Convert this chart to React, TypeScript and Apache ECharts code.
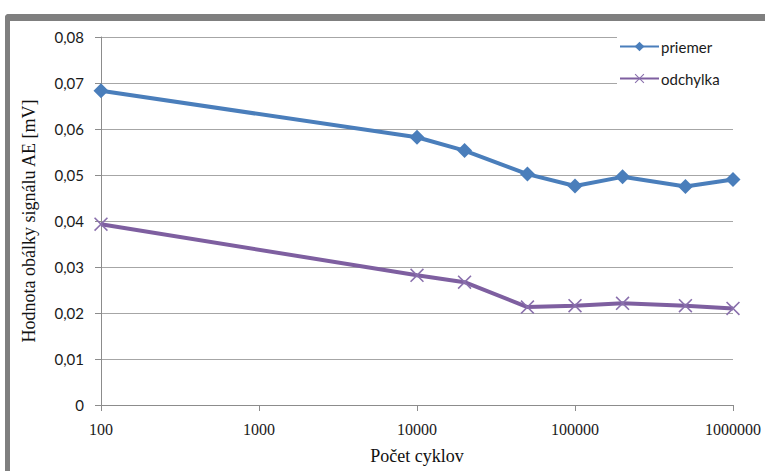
import React, { useEffect, useRef } from "react";
import * as echarts from "echarts";

const cycles = [100, 10000, 20000, 50000, 100000, 200000, 500000, 1000000];
const priemer = [0.0683, 0.0582, 0.0553, 0.0502, 0.0476, 0.0496, 0.0475, 0.049];
const odchylka = [0.0393, 0.0282, 0.0267, 0.0213, 0.0216, 0.0221, 0.0216, 0.021];
const seriesNames = ["priemer", "odchylka"];
const xAxisTitle = "Počet cyklov";
const yAxisTitle = "Hodnota obálky signálu AE [mV]";

const crossPath =
  "path://M0,0.8L0.8,0L5,4.2L9.2,0L10,0.8L5.8,5L10,9.2L9.2,10L5,5.8L0.8,10L0,9.2L4.2,5Z";

export default function App() {
  const ref = useRef<HTMLDivElement>(null);
  useEffect(() => {
    if (!ref.current) return;
    const chart = echarts.init(ref.current, undefined, { renderer: "svg" });
    const gray = "#8c8c8c";
    chart.setOption({
      animation: false,
      backgroundColor: "#ffffff",
      grid: { left: 101, right: 32, top: 37, bottom: 66 },
      legend: {
        orient: "vertical",
        left: 617,
        top: 37,
        itemGap: 17,
        itemWidth: 39,
        itemHeight: 12,
        backgroundColor: "#ffffff",
        padding: [2, 20, 2, 2],
        textStyle: { fontFamily: "Lato", fontSize: 15, color: "#1a1a1a", padding: [0, 0, 0, -3] },
        data: seriesNames,
      },
      xAxis: {
        type: "log",
        logBase: 10,
        min: 100,
        max: 1000000,
        name: xAxisTitle,
        nameLocation: "middle",
        nameGap: 42,
        nameTextStyle: { fontFamily: "Liberation Serif", fontSize: 18, color: "#111" },
        axisLine: { show: true, lineStyle: { color: gray, width: 1 } },
        axisTick: { show: true, length: 6, lineStyle: { color: gray } },
        splitLine: { show: false },
        minorTick: { show: false },
        axisLabel: {
          fontFamily: "Liberation Serif",
          fontSize: 16,
          color: "#1a1a1a",
          margin: 16,
          formatter: (v: number) => String(Math.round(v)),
        },
      },
      yAxis: {
        type: "value",
        min: 0,
        max: 0.08,
        interval: 0.01,
        name: yAxisTitle,
        nameLocation: "middle",
        nameGap: 63,
        nameTextStyle: { fontFamily: "Liberation Serif", fontSize: 18, color: "#111" },
        axisLine: { show: true, lineStyle: { color: gray, width: 1 } },
        axisTick: { show: true, length: 6, lineStyle: { color: gray } },
        splitLine: { show: true, lineStyle: { color: "#a6a6a6", width: 1 } },
        axisLabel: {
          fontFamily: "Lato",
          fontSize: 15,
          color: "#1a1a1a",
          margin: 17,
          formatter: (v: number) => (v === 0 ? "0" : v.toFixed(2).replace(".", ",")),
        },
      },
      graphic: [
        {
          type: "rect",
          shape: { x: 5, y: 14, width: 800, height: 7, r: [4, 0, 0, 0] },
          style: { fill: "#7f7f7f" },
          z: 100,
        },
        {
          type: "rect",
          shape: { x: 5, y: 14, width: 5, height: 470, r: [4, 0, 0, 0] },
          style: { fill: "#7f7f7f" },
          z: 100,
        },
      ],
      series: [
        {
          name: seriesNames[0],
          type: "line",
          data: cycles.map((c, i) => [c, priemer[i]]),
          symbol: "diamond",
          symbolSize: 15,
          lineStyle: { color: "#4a7ebb", width: 4 },
          itemStyle: { color: "#4a7ebb" },
          z: 3,
        },
        {
          name: seriesNames[1],
          type: "line",
          data: cycles.map((c, i) => [c, odchylka[i]]),
          symbol: crossPath,
          symbolSize: 14,
          lineStyle: { color: "#7e5fa0", width: 4 },
          itemStyle: { color: "#8a70ad" },
          z: 2,
        },
      ],
    });
    return () => chart.dispose();
  }, []);
  return (
    <div
      ref={ref}
      style={{ position: "fixed", left: 0, top: 0, width: 765, height: 471, background: "#fff" }}
    />
  );
}
